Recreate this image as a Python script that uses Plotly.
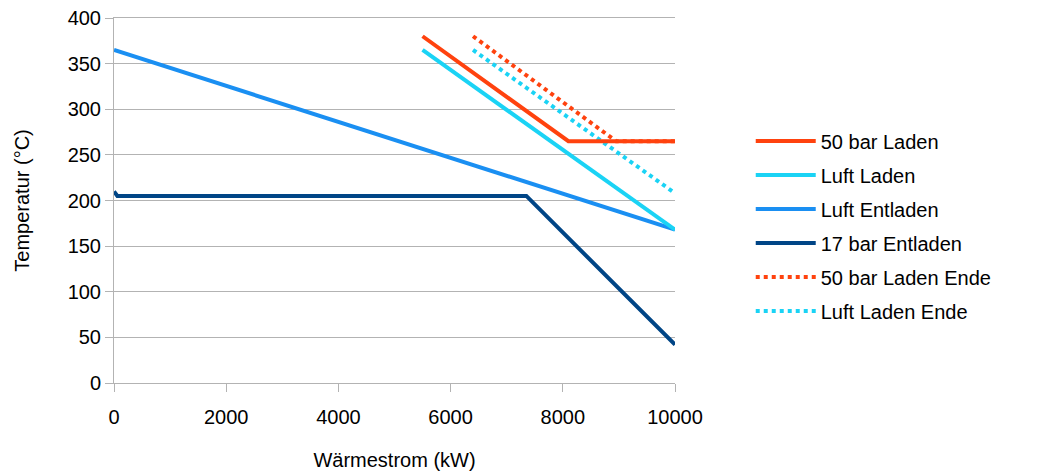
import plotly.graph_objects as go

# Data
laden50_x = [5500, 8100, 10000]
laden50_y = [380, 265, 265]
luft_laden_x = [5500, 10000]
luft_laden_y = [365, 168]
luft_entladen_x = [0, 10000]
luft_entladen_y = [365, 168]
entladen17_x = [0, 60, 7350, 10000]
entladen17_y = [210, 205, 205, 42]
laden50_ende_x = [6400, 8950, 10000]
laden50_ende_y = [380, 265, 265]
luft_laden_ende_x = [6400, 10000]
luft_laden_ende_y = [365, 208]

x_ticks = [0, 2000, 4000, 6000, 8000, 10000]
x_tick_labels = ["0", "2000", "4000", "6000", "8000", "10000"]
y_ticks = [0, 50, 100, 150, 200, 250, 300, 350, 400]

series = [
    ("50 bar Laden", laden50_x, laden50_y, "#ff420e", "solid"),
    ("Luft Laden", luft_laden_x, luft_laden_y, "#1ad3f5", "solid"),
    ("Luft Entladen", luft_entladen_x, luft_entladen_y, "#1a8ff2", "solid"),
    ("17 bar Entladen", entladen17_x, entladen17_y, "#004586", "solid"),
    ("50 bar Laden Ende", laden50_ende_x, laden50_ende_y, "#ff420e", "dot"),
    ("Luft Laden Ende", luft_laden_ende_x, luft_laden_ende_y, "#1ad3f5", "dot"),
]

fig = go.Figure()
# draw order: dotted underneath solid
order = [4, 5, 2, 1, 0, 3]
for i in order:
    name, x, y, c, d = series[i]
    fig.add_trace(go.Scatter(x=x, y=y, mode="lines", name=name,
                             line=dict(color=c, width=4, dash=d),
                             legendrank=i + 1, legendgroup=name))

font = dict(family="Liberation Sans, Arial, sans-serif", size=20, color="#000000")
fig.update_layout(
    width=1059, height=472,
    margin=dict(l=114, r=384, t=18, b=89, autoexpand=False),
    paper_bgcolor="white", plot_bgcolor="white",
    font=font,
    showlegend=True,
    legend=dict(x=1.135, y=0.43, xanchor="left", yanchor="middle",
                font=dict(size=20), tracegroupgap=5, itemwidth=60,
                bgcolor="rgba(0,0,0,0)"),
    xaxis=dict(range=[0, 10000], tickvals=x_ticks, ticktext=x_tick_labels,
               automargin=False,
               showgrid=False, zeroline=False, showline=True, linecolor="#b3b3b3",
               linewidth=1, mirror=True, ticks="outside", ticklen=8, tickcolor="#b3b3b3",
               ticklabelstandoff=8, tickfont=dict(size=20),
               title=dict(text="Wärmestrom (kW)", font=dict(size=20), standoff=25)),
    yaxis=dict(range=[0, 400], tickvals=y_ticks, automargin=False,
               showgrid=True, gridcolor="#b3b3b3", gridwidth=1, zeroline=False,
               showline=True, linecolor="#b3b3b3", linewidth=1,
               ticks="outside", ticklen=8, tickcolor="#b3b3b3", tickfont=dict(size=20),
               title=dict(text="Temperatur (°C)", font=dict(size=20), standoff=32)),
)

fig.write_html("out.html")
